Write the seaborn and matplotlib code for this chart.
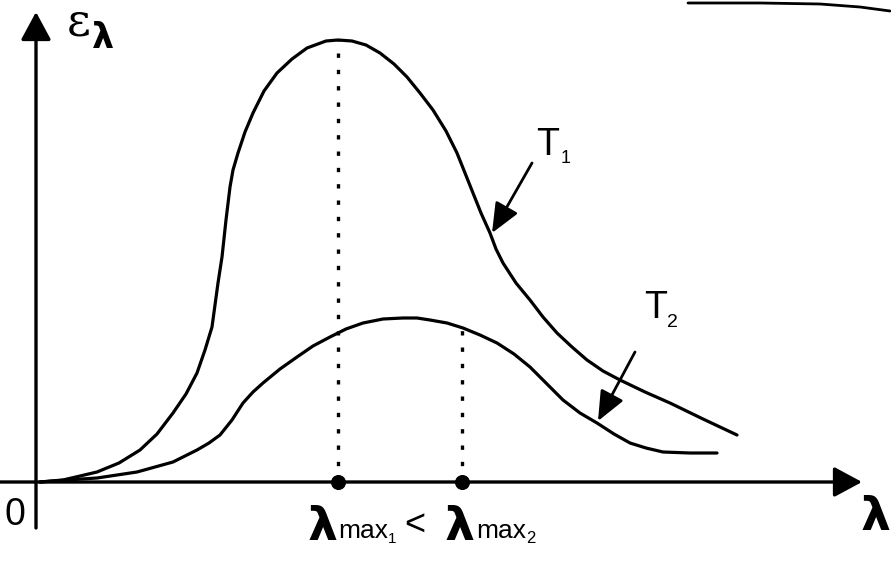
import matplotlib.pyplot as plt
import seaborn as sns

t1_lam = [4, 27, 61, 83, 104, 121, 137, 150, 161, 169, 176, 179, 182, 186, 190, 194, 197,
          202, 209, 217, 228, 241, 256, 271, 290, 302, 316, 330, 344, 358, 371, 384, 397,
          410, 421, 429, 437, 445, 454, 460, 467, 480, 494, 507, 521, 536, 551, 567, 584,
          609, 634, 667, 701]
t1_eps = [0, 2, 10, 19, 32, 48, 69, 88, 109, 132, 155, 177, 199, 225, 262, 295, 312,
          329, 350, 369, 391, 409, 423, 434, 441, 442, 441, 437, 429, 418, 405, 389, 372,
          351, 329, 309, 289, 269, 249, 233, 219, 199, 182, 165, 149, 135, 122, 111, 102,
          90, 79, 63, 47]

t2_lam = [4, 30, 61, 81, 101, 119, 137, 149, 161, 173, 184, 196, 207, 217, 227, 244, 261,
          277, 294, 310, 327, 347, 367, 381, 394, 411, 427, 444, 461, 478, 494, 511, 527,
          544, 561, 578, 594, 610, 627, 654, 681]
t2_eps = [0, 2, 4, 7, 10, 15, 20, 26, 32, 39, 47, 62, 79, 90, 99, 113, 125,
          136, 145, 153, 159, 163, 164, 164, 162, 159, 154, 147, 139, 128, 115, 98, 82,
          69, 59, 48, 39, 34, 30, 29, 29]

lam_max = [302, 426]
eps_max = [442, 154]

# bit of page edge visible at the top right of the scan
edge_lam = [652, 724, 784, 824, 854]
edge_eps = [479, 479, 478, 475, 471]

sns.set_style("white")
plt.rcParams['font.family'] = ['Liberation Sans', 'DejaVu Sans']

W, H = 891, 584
fig = plt.figure(figsize=(W / 100, H / 100), dpi=100)
ax = fig.add_axes([0, 0, 1, 1])
ax.set_xlim(-36, W - 36)
ax.set_ylim(482 - H, 482)
ax.axis('off')


def ptxt(x, y, s, **kw):
    # place text by pixel position (baseline)
    fig.text(x / W, 1 - y / H, s, va='baseline', ha='left', color='black', **kw)


sns.lineplot(x=t1_lam, y=t1_eps, sort=False, color='black', lw=2.3, ax=ax)
sns.lineplot(x=t2_lam, y=t2_eps, sort=False, color='black', lw=2.3, ax=ax)
ax.plot(edge_lam, edge_eps, color='black', lw=2)

ax.vlines(lam_max, 0, eps_max, colors='black', lw=2.4, linestyles=(0, (1.3, 3.6)))
sns.scatterplot(x=lam_max, y=[0, 0], s=100, color='black', edgecolor='black', zorder=5, ax=ax)

# axes with arrows
axis_arrow = dict(arrowstyle='-|>,head_length=1.15,head_width=0.62', mutation_scale=15,
                  lw=2.4, color='black', shrinkA=0, shrinkB=0)
ax.annotate('', xy=(826, 0), xytext=(-36, 0), arrowprops=axis_arrow)
ax.annotate('', xy=(0, 470), xytext=(0, -46), arrowprops=axis_arrow)

# pointers to the curves
ptr = dict(arrowstyle='-|>,head_length=1.4,head_width=0.6', mutation_scale=13,
           lw=2, color='black', shrinkA=0, shrinkB=0)
ax.annotate('', xy=(456, 249), xytext=(496, 319), arrowprops=ptr)
ax.annotate('', xy=(562, 61), xytext=(599, 130), arrowprops=ptr)

# epsilon via mathtext so its box hugs the glyph
ptxt(66, 35, r'$\mathrm{ε}$', fontsize=33, math_fontfamily='dejavuserif')
ptxt(92, 48, 'λ', fontsize=25, family='DejaVu Sans', weight='bold')
ptxt(4, 525, '0', fontsize=27)
ptxt(861, 530, 'λ', fontsize=34, family='DejaVu Sans', weight='bold')

ptxt(536, 155, 'T', fontsize=27)
ptxt(561, 163, '1', fontsize=13)
ptxt(644, 318, 'T', fontsize=27)
ptxt(667, 327, '2', fontsize=14)

ptxt(308, 540, 'λ', fontsize=34, family='DejaVu Sans', weight='bold')
ptxt(338, 538, 'max', fontsize=19)
ptxt(388, 543, '1', fontsize=11)
ptxt(404, 535, '<', fontsize=26)
ptxt(445, 540, 'λ', fontsize=34, family='DejaVu Sans', weight='bold')
ptxt(476, 538, 'max', fontsize=19)
ptxt(526, 543, '2', fontsize=12)

fig.savefig('out.png', dpi=100)
